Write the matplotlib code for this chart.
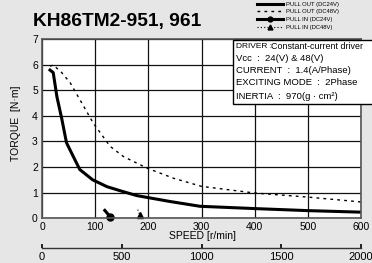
import numpy as np
import matplotlib.pyplot as plt

plt.rcParams['font.family'] = ['Liberation Sans', 'DejaVu Sans']

# data
speed_out24 = [15, 21, 28, 37, 46, 59, 71, 95, 122, 150, 178, 240, 297, 400, 500, 600]
torque_out24 = [5.8, 5.7, 4.75, 3.9, 2.95, 2.4, 1.9, 1.5, 1.23, 1.05, 0.88, 0.65, 0.46, 0.37, 0.29, 0.23]
speed_out48 = [15, 21, 37, 53, 75, 96, 128, 153, 197, 247, 300, 400, 500, 600]
torque_out48 = [5.95, 6.0, 5.7, 5.3, 4.5, 3.73, 2.81, 2.41, 1.96, 1.56, 1.24, 0.98, 0.82, 0.63]
speed_in24 = [118, 128]
torque_in24 = [0.3, 0.05]
speed_in48 = [180, 184]
torque_in48 = [0.33, 0.1]

x_ticks = [0, 100, 200, 300, 400, 500, 600]
y_ticks = [0, 1, 2, 3, 4, 5, 6, 7]
x2_ticks = [0, 500, 1000, 1500, 2000]

info_lines = ["DRIVER :", "Vcc  :  24(V) & 48(V)", "CURRENT  :  1.4(A/Phase)",
              "EXCITING MODE  :  2Phase", "INERTIA  :  970(g \u00b7 cm\u00b2)"]

fig = plt.figure(figsize=(3.72, 2.63), dpi=100)
fig.patch.set_facecolor('#e6e6e6')
ax = fig.add_axes([0.113, 0.171, 0.858, 0.679])
ax.set_facecolor('white')

ax.plot(speed_out24, torque_out24, color='black', lw=2.2, label='PULL OUT (DC24V)')
ax.plot(speed_out48, torque_out48, color='black', lw=1.0, ls=(0, (2, 3)), label='PULL OUT (DC48V)')
ax.plot(speed_in24, torque_in24, color='black', lw=2.2, marker='o', markevery=[1], ms=5,
        label='PULL IN (DC24V)', clip_on=False)
ax.plot(speed_in48, torque_in48, color='black', lw=0.8, ls=(0, (1, 2)), marker='^', markevery=[1], ms=5,
        label='PULL IN (DC48V)', clip_on=False)

ax.set_xlim(0, 600)
ax.set_ylim(0, 7)
ax.set_xticks(x_ticks)
ax.set_yticks(y_ticks)
ax.grid(True, color='#111111', lw=0.9)
ax.set_axisbelow(True)
ax.tick_params(length=0, labelsize=7.5, pad=3)
for s in ax.spines.values():
    s.set_color('#555555')
    s.set_linewidth(1.2)
ax.set_xlabel('SPEED [r/min]', fontsize=7.5)
ax.xaxis.set_label_coords(0.503, -0.075)
ax.set_ylabel('TORQUE  [N\u00b7m]', fontsize=7.5)
ax.yaxis.set_label_coords(-0.065, 0.53)

# legend above the plot
handles, labels = ax.get_legend_handles_labels()
leg = fig.legend(handles, labels, loc='upper left', bbox_to_anchor=(0.691, 0.994), frameon=False,
                 fontsize=4.2, handlelength=4.5, handletextpad=0.4, labelspacing=0.45,
                 borderpad=0, borderaxespad=0, markerscale=0.7)

fig.text(0.09, 0.92, 'KH86TM2-951, 961', fontsize=13.8, fontweight='bold', va='center')

# info box
box = plt.Rectangle((0.599, 0.64), 0.45, 0.357, transform=ax.transAxes, facecolor='white',
                    edgecolor='black', lw=1.0, clip_on=False, zorder=5)
ax.add_patch(box)
ys = [0.963, 0.891, 0.824, 0.760, 0.68]
for line, yy in zip(info_lines, ys):
    fs = 6.0 if line.startswith('DRIVER') else 6.8
    ax.text(0.607, yy, line, transform=ax.transAxes, fontsize=fs, va='center', zorder=6)
ax.text(0.716, 0.963, 'Constant-current driver', transform=ax.transAxes, fontsize=6.4, va='center', zorder=6)

# second speed scale
ax2 = fig.add_axes([0.113, 0.056, 0.858, 0.0001])
ax2.set_xlim(0, 2000)
ax2.set_xticks(x2_ticks)
ax2.set_yticks([])
ax2.patch.set_alpha(0)
for k in ['top', 'left', 'right']:
    ax2.spines[k].set_visible(False)
ax2.spines['bottom'].set_color('#333333')
ax2.spines['bottom'].set_linewidth(1.0)
ax2.tick_params(axis='x', direction='in', length=3, width=1.2, labelsize=8, pad=3)

fig.savefig('out.png', dpi=100, facecolor=fig.get_facecolor())
